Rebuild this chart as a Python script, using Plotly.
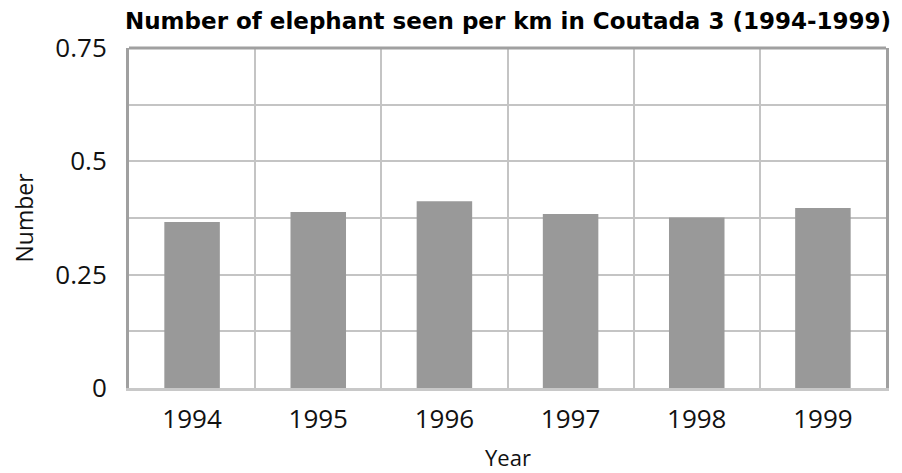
import plotly.graph_objects as go

years = ["1994", "1995", "1996", "1997", "1998", "1999"]
values = [0.366, 0.388, 0.412, 0.384, 0.376, 0.397]
y_ticks = [0, 0.25, 0.5, 0.75]
y_tick_labels = ["0", "0.25", "0.5", "0.75"]

xpos = list(range(len(years)))

fig = go.Figure(go.Bar(x=xpos, y=values, width=0.44, marker=dict(color="#999999", line=dict(width=0))))

font_family = "'Open Sans', sans-serif"

W, H = 902, 473
PLOT_H = 340
fig.update_layout(
    width=W, height=H,
    margin=dict(l=129, r=16, t=48, b=85, autoexpand=False),
    plot_bgcolor="white", paper_bgcolor="white",
    showlegend=False,
    font=dict(family=font_family, color="#111111"),
    title=dict(text="<b>Number of elephant seen per km in Coutada 3 (1994-1999)</b>",
               x=508 / W, xanchor="center", y=1 - 21 / H, yanchor="middle",
               font=dict(family="'DejaVu Sans', sans-serif", size=23, color="#000000")),
    xaxis=dict(
        range=[-0.5, 5.5], tickvals=xpos, ticktext=years,
        showgrid=False, zeroline=False, automargin=False,
        tickfont=dict(size=26), ticks="", ticklabelstandoff=6,
        showline=True, linecolor="#c8c8c8", linewidth=3,
        minor=dict(tickvals=[0.5, 1.5, 2.5, 3.5, 4.5], showgrid=True, gridcolor="#c4c4c4", gridwidth=2, ticks=""),
    ),
    yaxis=dict(
        range=[0, 0.75], tickvals=y_ticks, ticktext=y_tick_labels,
        showgrid=True, gridcolor="#c4c4c4", gridwidth=2, zeroline=False, automargin=False,
        tickfont=dict(size=26), ticks="", ticklabelstandoff=14,
        showline=True, linecolor="#a0a0a0", linewidth=3, mirror=True,
        minor=dict(dtick=0.125, showgrid=True, gridcolor="#c4c4c4", gridwidth=2, ticks=""),
        title=dict(text="Number", font=dict(size=23), standoff=16),
    ),
    annotations=[dict(text="Year", xref="paper", yref="paper", x=0.5, y=-69 / PLOT_H,
                      xanchor="center", yanchor="middle", showarrow=False,
                      font=dict(size=22, color="#111111"))],
    shapes=[dict(type="line", xref="paper", yref="paper", x0=0, x1=1, y0=1, y1=1,
                 line=dict(color="#a0a0a0", width=3))],
)

fig.write_html("out.html", config={"displayModeBar": False},
               post_script="document.body.style.margin='0';document.body.style.overflow='hidden';")
